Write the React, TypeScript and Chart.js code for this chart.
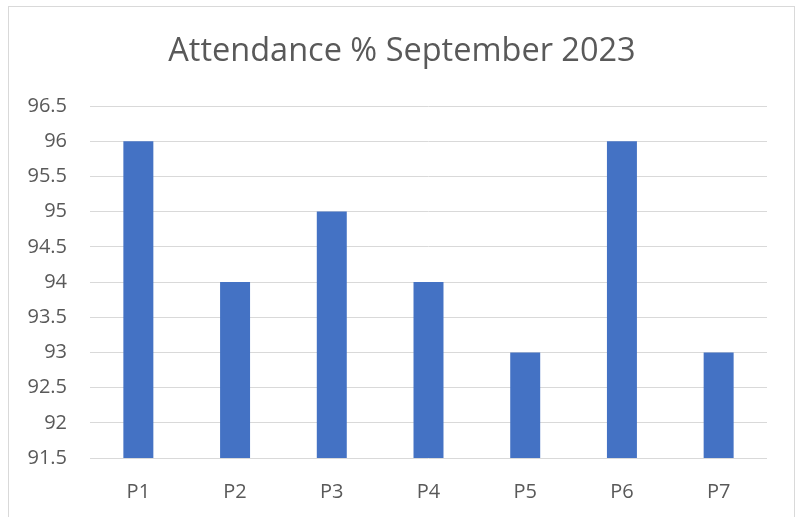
import React, { useEffect, useRef } from "react";
import { Chart, registerables } from "chart.js";

Chart.register(...registerables);

const categories = ["P1", "P2", "P3", "P4", "P5", "P6", "P7"];
const attendance = [96, 94, 95, 94, 93, 96, 93];
const chartTitle = "Attendance % September 2023";
const yMin = 91.5;
const yMax = 96.5;
const yStep = 0.5;

const FONT = "'Open Sans', 'Noto Sans', sans-serif";
const TEXT = "#595959";

const titlePlugin = {
  id: "customTitle",
  afterDraw(chart: any) {
    const ctx = chart.ctx;
    ctx.save();
    ctx.font = `32.5px ${FONT}`;
    ctx.fillStyle = TEXT;
    ctx.textAlign = "center";
    ctx.textBaseline = "alphabetic";
    ctx.fillText(chartTitle, 402, 61);
    ctx.restore();
  },
};

export default function App() {
  const ref = useRef<HTMLCanvasElement | null>(null);
  useEffect(() => {
    if (!ref.current) return;
    const chart = new Chart(ref.current, {
      type: "bar",
      data: {
        labels: categories,
        datasets: [
          {
            data: attendance,
            backgroundColor: "#4472C4",
            borderWidth: 0,
            barPercentage: 0.31,
            categoryPercentage: 1,
          },
        ],
      },
      options: {
        animation: false,
        responsive: false,
        layout: { padding: { left: 0, top: 106, right: 32, bottom: 0 } },
        plugins: {
          legend: { display: false },
          title: { display: false },
          tooltip: { enabled: false },
        },
        scales: {
          x: {
            grid: { display: false },
            border: { display: false },
            ticks: { color: TEXT, font: { family: FONT, size: 20 }, padding: 14 },
            afterFit: (s: any) => {
              s.height = 59;
            },
          },
          y: {
            min: yMin,
            max: yMax,
            grid: { color: "#D9D9D9", lineWidth: 1, drawTicks: false },
            border: { display: false },
            ticks: {
              stepSize: yStep,
              color: TEXT,
              font: { family: FONT, size: 20 },
              padding: 23,
              callback: (v: any) => String(Number(v)),
            },
            afterFit: (s: any) => {
              s.width = 90;
            },
          },
        },
      },
      plugins: [titlePlugin],
    });
    return () => chart.destroy();
  }, []);
  return (
    <div style={{ position: "fixed", left: 0, top: 0, width: 799, height: 517, overflow: "hidden", background: "#fff" }}>
      <div
        style={{
          position: "absolute",
          left: 8,
          top: 6,
          width: 787,
          height: 600,
          border: "1px solid #D9D9D9",
          boxSizing: "border-box",
        }}
      />
      <canvas ref={ref} width={799} height={517} style={{ position: "absolute", left: 0, top: 0 }} />
    </div>
  );
}
